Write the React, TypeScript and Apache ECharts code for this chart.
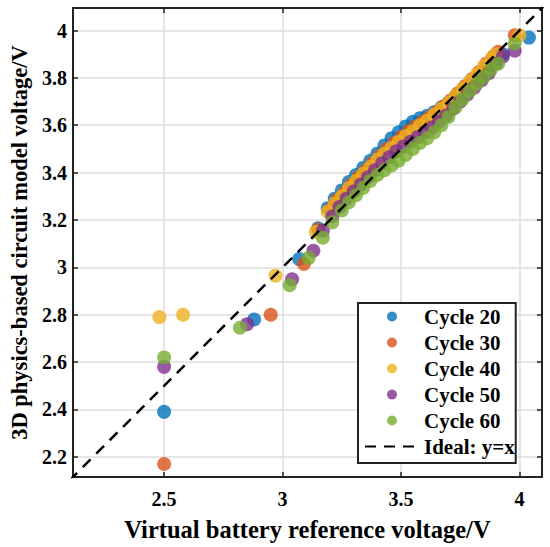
import React, { useEffect, useRef } from "react";
import * as echarts from "echarts";

const seriesNames = ["Cycle 20", "Cycle 30", "Cycle 40", "Cycle 50", "Cycle 60"];
const seriesColors = ["#0072BD", "#D95319", "#EDB120", "#7E2F8E", "#77AC30"];

const cycle20: number[][] = [
  [2.5, 2.39], [2.88, 2.78], [3.07, 3.035], [3.15, 3.165], [3.19, 3.25], [3.22, 3.29],
  [3.25, 3.325], [3.28, 3.36], [3.31, 3.39], [3.34, 3.42], [3.37, 3.45], [3.4, 3.48],
  [3.43, 3.515], [3.46, 3.545], [3.49, 3.57], [3.52, 3.595], [3.55, 3.615], [3.58, 3.63],
  [3.61, 3.64], [3.64, 3.655], [3.67, 3.675], [3.7, 3.695], [3.73, 3.72], [3.76, 3.745],
  [3.79, 3.77], [3.82, 3.795], [3.85, 3.825], [3.88, 3.855], [3.91, 3.88], [3.93, 3.9],
  [4.04, 3.97],
];
const cycle30: number[][] = [
  [2.5, 2.17], [2.95, 2.8], [3.09, 3.015], [3.15, 3.16], [3.2, 3.245], [3.23, 3.285],
  [3.26, 3.315], [3.29, 3.35], [3.32, 3.38], [3.35, 3.41], [3.38, 3.44], [3.41, 3.47],
  [3.44, 3.5], [3.47, 3.525], [3.5, 3.55], [3.53, 3.575], [3.56, 3.595], [3.59, 3.615],
  [3.62, 3.635], [3.65, 3.655], [3.68, 3.68], [3.71, 3.705], [3.74, 3.735], [3.77, 3.765],
  [3.8, 3.795], [3.83, 3.825], [3.86, 3.86], [3.89, 3.89], [3.91, 3.91], [3.98, 3.98],
];
const cycle40: number[][] = [
  [2.48, 2.79], [2.58, 2.8], [2.97, 2.965], [3.14, 3.15], [3.19, 3.235], [3.22, 3.27],
  [3.25, 3.3], [3.28, 3.335], [3.31, 3.365], [3.34, 3.395], [3.37, 3.425], [3.4, 3.455],
  [3.43, 3.48], [3.46, 3.505], [3.49, 3.53], [3.52, 3.555], [3.55, 3.575], [3.58, 3.6],
  [3.61, 3.62], [3.64, 3.645], [3.67, 3.67], [3.7, 3.695], [3.73, 3.725], [3.76, 3.755],
  [3.79, 3.785], [3.82, 3.815], [3.85, 3.85], [3.88, 3.88], [3.9, 3.9], [4.0, 3.98],
];
const cycle50: number[][] = [
  [2.5, 2.58], [2.85, 2.76], [3.04, 2.95], [3.13, 3.07], [3.17, 3.155], [3.21, 3.215],
  [3.24, 3.255], [3.27, 3.29], [3.3, 3.32], [3.33, 3.35], [3.36, 3.38], [3.39, 3.41],
  [3.42, 3.44], [3.45, 3.465], [3.48, 3.49], [3.51, 3.51], [3.54, 3.53], [3.57, 3.55],
  [3.6, 3.57], [3.63, 3.59], [3.66, 3.615], [3.69, 3.64], [3.72, 3.67], [3.75, 3.7],
  [3.78, 3.73], [3.81, 3.76], [3.84, 3.79], [3.87, 3.82], [3.9, 3.86], [3.93, 3.89],
  [3.98, 3.915],
];
const cycle60: number[][] = [
  [2.5, 2.62], [2.82, 2.745], [3.03, 2.925], [3.11, 3.04], [3.17, 3.125], [3.21, 3.19],
  [3.25, 3.24], [3.28, 3.275], [3.31, 3.305], [3.34, 3.335], [3.37, 3.365], [3.4, 3.39],
  [3.43, 3.41], [3.46, 3.43], [3.49, 3.45], [3.52, 3.475], [3.55, 3.5], [3.58, 3.525],
  [3.61, 3.545], [3.64, 3.57], [3.67, 3.6], [3.7, 3.635], [3.73, 3.675], [3.76, 3.71],
  [3.79, 3.745], [3.82, 3.775], [3.85, 3.805], [3.88, 3.835], [3.91, 3.86], [3.98, 3.945],
];
const allCycles = [cycle20, cycle30, cycle40, cycle50, cycle60];

const idealName = "Ideal: y=x";
const idealLine: number[][] = [[2.1, 2.1], [4.1, 4.1]];

const axisMin = 2.115;
const axisMax = 4.095;
const xTicks = [2.5, 3, 3.5, 4];
const yTicks = [2.2, 2.4, 2.6, 2.8, 3, 3.2, 3.4, 3.6, 3.8, 4];

const FONT = "'Liberation Serif', 'Times New Roman', serif";
const AXIS_COLOR = "#222";
const GRID_COLOR = "#dcdcdc";

export default function App() {
  const ref = useRef<HTMLDivElement>(null);

  useEffect(() => {
    if (!ref.current) return;
    const chart = echarts.init(ref.current, undefined, { renderer: "svg" });

    const baseAxis = (ticks: number[], showLabel: boolean, showSplit: boolean, margin = 8) => ({
      type: "value",
      min: axisMin,
      max: axisMax,
      axisLine: { show: true, onZero: false, lineStyle: { color: AXIS_COLOR, width: 2 } },
      axisTick: {
        show: true,
        inside: true,
        length: 5,
        customValues: ticks,
        lineStyle: { color: AXIS_COLOR, width: 1.5 },
      },
      axisLabel: {
        show: showLabel,
        customValues: ticks,
        margin,
        color: "#000",
        fontFamily: FONT,
        fontWeight: "bold",
        fontSize: 20,
      },
      splitLine: { show: showSplit, lineStyle: { color: GRID_COLOR, width: 1.5 } },
    });

    const scatterSeries = allCycles.map((d, i) => ({
      name: seriesNames[i],
      type: "scatter",
      data: d,
      symbol: "circle",
      symbolSize: 14,
      itemStyle: { color: seriesColors[i], opacity: 0.8 },
      z: 2,
    }));

    chart.setOption({
      animation: false,
      backgroundColor: "#fff",
      grid: { left: 72, right: 8, top: 8, bottom: 70, containLabel: false },
      xAxis: [
        {
          ...baseAxis(xTicks, true, true, 12),
          position: "bottom",
          name: "Virtual battery reference voltage/V",
          nameLocation: "middle",
          nameGap: 40,
          nameTextStyle: { color: "#000", fontFamily: FONT, fontWeight: "bold", fontSize: 24.5 },
        },
        { ...baseAxis(xTicks, false, false), position: "top" },
      ],
      yAxis: [
        {
          ...baseAxis(yTicks, true, true, 6),
          position: "left",
          name: "3D physics-based circuit model voltage/V",
          nameLocation: "middle",
          nameGap: 36,
          nameTextStyle: { color: "#000", fontFamily: FONT, fontWeight: "bold", fontSize: 22.5 },
        },
        { ...baseAxis(yTicks, false, false), position: "right" },
      ],
      legend: {
        orient: "vertical",
        left: 358,
        top: 303,
        padding: [3, 1, 6, 6],
        itemWidth: 54,
        itemHeight: 10,
        itemGap: 5,
        borderColor: AXIS_COLOR,
        borderWidth: 2,
        backgroundColor: "#fff",
        data: [
          ...seriesNames,
          { name: idealName, itemStyle: { opacity: 0, color: "transparent", borderWidth: 0 } },
        ],
        textStyle: { color: "#000", fontFamily: FONT, fontWeight: "bold", fontSize: 21, lineHeight: 20 },
      },
      series: [
        ...scatterSeries,
        {
          name: idealName,
          type: "line",
          data: idealLine,
          symbol: "none",
          clip: true,
          lineStyle: { color: "#000", width: 2.5, type: [11, 8] },
          itemStyle: { color: "#000" },
          z: 3,
        },
      ],
    });

    return () => chart.dispose();
  }, []);

  return (
    <div
      ref={ref}
      style={{ position: "fixed", left: 0, top: 0, width: 550, height: 547, background: "#fff" }}
    />
  );
}
